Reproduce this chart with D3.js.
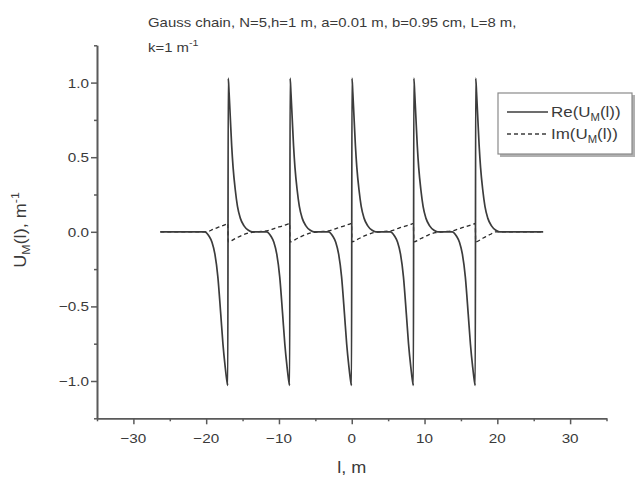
<!DOCTYPE html>
<html>
<head>
<meta charset="utf-8">
<script src="https://cdn.jsdelivr.net/npm/d3@7"></script>
<style>
  html, body { margin: 0; padding: 0; background: #fff; }
  svg { display: block; }
  text { font-family: "Liberation Sans", Arial, sans-serif; fill: #3a3a3a; }
</style>
</head>
<body>
<svg id="chart" width="637" height="479"></svg>
<script>
// Position along the chain, m, and real part of U_M(l), m^-1
const reL = [
  -26.3,
  -20.2, -19.6, -19.2, -18.8, -18.4, -18.0, -17.7, -17.4, -17.15, -17.03,
  -16.97, -16.85, -16.7, -16.5, -16.3, -16.0, -15.7, -15.3, -14.8, -14.2, -13.7,
  -11.7, -11.1, -10.7, -10.3, -9.9, -9.5, -9.2, -8.9, -8.65, -8.53,
  -8.47, -8.35, -8.2, -8.0, -7.8, -7.5, -7.2, -6.8, -6.3, -5.7, -5.2,
  -3.2, -2.6, -2.2, -1.8, -1.4, -1.0, -0.7, -0.4, -0.15, -0.03,
  0.03, 0.15, 0.3, 0.5, 0.7, 1.0, 1.3, 1.7, 2.2, 2.8, 3.3,
  5.3, 5.9, 6.3, 6.7, 7.1, 7.5, 7.8, 8.1, 8.35, 8.47,
  8.53, 8.65, 8.8, 9.0, 9.2, 9.5, 9.8, 10.2, 10.7, 11.3, 11.8,
  13.8, 14.4, 14.8, 15.2, 15.6, 16.0, 16.3, 16.6, 16.85, 16.97,
  17.03, 17.15, 17.3, 17.5, 17.7, 18.0, 18.3, 18.7, 19.2, 19.8, 20.3,
  26.3
];
const reU = [
  0,
  0, -0.03, -0.07, -0.15, -0.3, -0.55, -0.75, -0.9, -1.0, -1.03,
  1.03, 0.93, 0.78, 0.58, 0.43, 0.28, 0.17, 0.09, 0.04, 0.01, 0,
  0, -0.03, -0.07, -0.15, -0.3, -0.55, -0.75, -0.9, -1.0, -1.03,
  1.03, 0.93, 0.78, 0.58, 0.43, 0.28, 0.17, 0.09, 0.04, 0.01, 0,
  0, -0.03, -0.07, -0.15, -0.3, -0.55, -0.75, -0.9, -1.0, -1.03,
  1.03, 0.93, 0.78, 0.58, 0.43, 0.28, 0.17, 0.09, 0.04, 0.01, 0,
  0, -0.03, -0.07, -0.15, -0.3, -0.55, -0.75, -0.9, -1.0, -1.03,
  1.03, 0.93, 0.78, 0.58, 0.43, 0.28, 0.17, 0.09, 0.04, 0.01, 0,
  0, -0.03, -0.07, -0.15, -0.3, -0.55, -0.75, -0.9, -1.0, -1.03,
  1.03, 0.93, 0.78, 0.58, 0.43, 0.28, 0.17, 0.09, 0.04, 0.01, 0,
  0
];

// Imaginary part of U_M(l)
const imL = [
  -26.3, -19.9, -19.0, -18.0, -17.3, -17.03,
  -16.97, -16.0, -15.0, -14.0, -13.0, -11.5, -10.5, -9.5, -8.8, -8.53,
  -8.47, -7.5, -6.5, -5.5, -4.5, -3.0, -2.0, -1.0, -0.3, -0.03,
  0.03, 1.0, 2.0, 3.0, 4.0, 5.5, 6.5, 7.5, 8.2, 8.47,
  8.53, 9.5, 10.5, 11.5, 12.5, 14.0, 15.0, 16.0, 16.7, 16.97,
  17.03, 18.0, 19.0, 19.8, 26.3
];
const imU = [
  0, 0, 0.018, 0.036, 0.05, 0.056,
  -0.067, -0.045, -0.022, -0.006, 0, 0.008, 0.025, 0.04, 0.052, 0.056,
  -0.067, -0.045, -0.022, -0.006, 0, 0.008, 0.025, 0.04, 0.052, 0.056,
  -0.067, -0.045, -0.022, -0.006, 0, 0.008, 0.025, 0.04, 0.052, 0.056,
  -0.067, -0.045, -0.022, -0.006, 0, 0.008, 0.025, 0.04, 0.052, 0.056,
  -0.067, -0.043, -0.018, 0, 0
];

const xMajor = [-30, -20, -10, 0, 10, 20, 30];
const xMinor = [-35, -25, -15, -5, 5, 15, 25, 35];
const yMajor = [-1.0, -0.5, 0.0, 0.5, 1.0];
const yMinor = [-1.25, -0.75, -0.25, 0.25, 0.75, 1.25];

const titleLine1 = "Gauss chain, N=5,h=1 m, a=0.01 m, b=0.95 cm, L=8 m,";
const legendNames = ["Re", "Im"];

const svg = d3.select("#chart");
const stretch = 1.13;   // glyphs are set slightly wide

const x = d3.scaleLinear().domain([-35, 35]).range([97, 606.5]);
const y = d3.scaleLinear().domain([-1.25, 1.25]).range([418.3, 45.3]);

// axes
const axisColor = "#5a5a5a";
function styleAxis(g) {
  g.selectAll("path.domain").attr("stroke", axisColor).attr("stroke-width", 1.6);
  g.selectAll(".tick line").attr("stroke", axisColor).attr("stroke-width", 1.5);
  g.selectAll("text").remove();
}

const gxMinor = svg.append("g").attr("transform", `translate(0,${y(-1.25)})`)
  .call(d3.axisBottom(x).tickValues(xMinor).tickSize(3).tickSizeOuter(0));
styleAxis(gxMinor);
const gx = svg.append("g").attr("transform", `translate(0,${y(-1.25)})`)
  .call(d3.axisBottom(x).tickValues(xMajor).tickSize(6).tickSizeOuter(0));
styleAxis(gx);

const gyMinor = svg.append("g").attr("transform", `translate(${x(-35)},0)`)
  .call(d3.axisLeft(y).tickValues(yMinor).tickSize(3).tickSizeOuter(0));
styleAxis(gyMinor);
const gy = svg.append("g").attr("transform", `translate(${x(-35)},0)`)
  .call(d3.axisLeft(y).tickValues(yMajor).tickSize(6).tickSizeOuter(0));
styleAxis(gy);

function stretchedText(parent, px, py, anchor, size) {
  return parent.append("text")
    .attr("transform", `translate(${px},${py}) scale(${stretch},1)`)
    .attr("text-anchor", anchor)
    .style("font-size", size + "px");
}

// tick labels
xMajor.forEach(v => {
  stretchedText(svg, x(v), 443, "middle", 13.5).text(d3.format("d")(v));
});
yMajor.forEach(v => {
  stretchedText(svg, 89, y(v) + 5, "end", 13.5).text(d3.format(".1f")(v));
});

// axis titles
stretchedText(svg, x(0), 473, "middle", 16).text("l, m");

const yt = svg.append("text")
  .attr("transform", `translate(26,230) rotate(-90) scale(${stretch},1)`)
  .attr("text-anchor", "middle")
  .style("font-size", "16px");
yt.append("tspan").text("U");
yt.append("tspan").attr("dy", 4).style("font-size", "11px").text("M");
yt.append("tspan").attr("dy", -4).text("(l), m");
yt.append("tspan").attr("dy", -7).style("font-size", "11px").text("-1");

// title
stretchedText(svg, 148, 27, "start", 13.2).text(titleLine1);
const t2 = stretchedText(svg, 148, 52, "start", 13.2);
t2.append("tspan").text("k=1 m");
t2.append("tspan").attr("dy", -6).style("font-size", "9.5px").text("-1");

// curves
const reData = reL.map((l, i) => [l, reU[i]]);
const imData = imL.map((l, i) => [l, imU[i]]);
const line = d3.line().x(d => x(d[0])).y(d => y(d[1])).curve(d3.curveMonotoneX);

svg.append("path").datum(imData)
  .attr("d", line)
  .attr("fill", "none")
  .attr("stroke", "#2a2a2a")
  .attr("stroke-width", 1.3)
  .attr("stroke-dasharray", "4,3");

svg.append("path").datum(reData)
  .attr("d", line)
  .attr("fill", "none")
  .attr("stroke", "#3c3c3c")
  .attr("stroke-width", 1.7)
  .attr("stroke-linejoin", "round");

// legend
const lg = svg.append("g");
lg.append("rect").attr("x", 500).attr("y", 95).attr("width", 135).attr("height", 62)
  .attr("fill", "#b0b0b0");
lg.append("rect").attr("x", 498).attr("y", 93).attr("width", 134).attr("height", 61)
  .attr("fill", "#fff").attr("stroke", "#8a8a8a").attr("stroke-width", 1.2);

const legendRows = [
  { name: legendNames[0], y: 112, dash: null, w: 1.7 },
  { name: legendNames[1], y: 134, dash: "4,3", w: 1.3 }
];
legendRows.forEach(r => {
  lg.append("line").attr("x1", 507).attr("x2", 548).attr("y1", r.y).attr("y2", r.y)
    .attr("stroke", "#3c3c3c").attr("stroke-width", r.w)
    .attr("stroke-dasharray", r.dash);
  const t = stretchedText(lg, 551, r.y + 5, "start", 15);
  t.append("tspan").text(r.name + "(U");
  t.append("tspan").attr("dy", 4).style("font-size", "10px").text("M");
  t.append("tspan").attr("dy", -4).text("(l))");
});
</script>
</body>
</html>
